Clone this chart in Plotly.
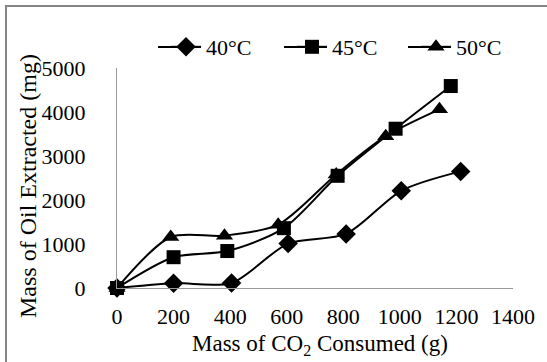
import plotly.graph_objects as go

# Data
x_40 = [0, 200, 405, 605, 810, 1005, 1215]
y_40 = [0, 110, 115, 1010, 1230, 2210, 2650]
x_45 = [0, 200, 390, 590, 780, 985, 1180]
y_45 = [0, 700, 840, 1360, 2550, 3620, 4590]
x_50 = [0, 190, 380, 570, 775, 950, 1140]
y_50 = [0, 1160, 1190, 1440, 2580, 3450, 4060]

x_ticks = [0, 200, 400, 600, 800, 1000, 1200, 1400]
y_ticks = [0, 1000, 2000, 3000, 4000, 5000]

x_title = "Mass of CO<sub>2</sub> Consumed (g)"
y_title = "Mass of Oil Extracted (mg)"

FONT = "'Times New Roman', 'Liberation Serif', 'DejaVu Serif', serif"

W, H = 547, 362
L, R, T, B = 117, 34, 68, 74
pw, ph = W - L - R, H - T - B

def px_x(p):
    return (p - L) / pw

def px_y(p):
    return (H - B - p) / ph

fig = go.Figure()
series = [
    ("40°C", x_40, y_40, "diamond", 15, "legend", 183),
    ("45°C", x_45, y_45, "square", 14, "legend2", 309),
    ("50°C", x_50, y_50, "triangle-up", 15, "legend3", 433),
]
legends = {}
for name, xs, ys, sym, sz, lg, cx in series:
    fig.add_trace(go.Scatter(
        x=xs, y=ys, name=name, mode="lines+markers", legend=lg,
        line=dict(color="black", width=2, shape="spline", smoothing=0.8),
        marker=dict(symbol=sym, size=sz, color="black"),
        cliponaxis=False,
    ))
    legends[lg] = dict(orientation="h", x=px_x(cx - 17), y=px_y(47),
                       yanchor="middle", xanchor="left",
                       font=dict(family=FONT, size=22, color="black"),
                       bgcolor="rgba(0,0,0,0)")
    # extend legend sample line to the reference's longer length
    fig.add_shape(type="line", xref="paper", yref="paper",
                  x0=px_x(cx - 25), x1=px_x(cx + 18), y0=px_y(47), y1=px_y(47),
                  line=dict(color="black", width=2))

fig.add_shape(type="rect", xref="paper", yref="paper",
              x0=px_x(6), x1=px_x(W + 20), y0=px_y(H + 20), y1=px_y(6),
              line=dict(color="#858585", width=2), layer="below")

fig.add_annotation(text=x_title, xref="paper", yref="paper",
                   x=px_x(320), y=px_y(345), xanchor="center", yanchor="middle",
                   showarrow=False, font=dict(family=FONT, size=23, color="black"))
fig.add_annotation(text=y_title, xref="paper", yref="paper", textangle=-90,
                   x=px_x(28), y=px_y(186), xanchor="center", yanchor="middle",
                   showarrow=False, font=dict(family=FONT, size=24, color="black"))

fig.update_layout(
    width=W, height=H,
    margin=dict(l=L, r=R, t=T, b=B),
    paper_bgcolor="white", plot_bgcolor="white",
    font=dict(family=FONT, size=22, color="black"),
    showlegend=True,
    xaxis=dict(range=[0, 1400], tickvals=x_ticks, showgrid=False, zeroline=False,
               showline=True, linecolor="#9a9a9a", linewidth=1, ticks="",
               ticklabelstandoff=9, tickfont=dict(family=FONT, size=22)),
    yaxis=dict(range=[0, 5000], tickvals=y_ticks, showgrid=False, zeroline=False,
               showline=True, linecolor="#9a9a9a", linewidth=1, ticks="",
               ticklabelstandoff=26, tickfont=dict(family=FONT, size=22)),
    **legends,
)

fig.write_html("out.html")
